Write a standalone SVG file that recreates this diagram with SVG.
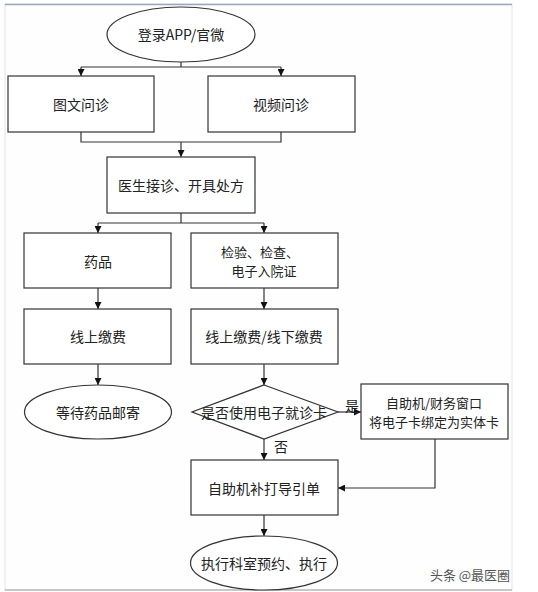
<svg xmlns="http://www.w3.org/2000/svg" width="538" height="592" viewBox="0 0 538 592">
<defs>
<marker id="ah" viewBox="0 0 10 10" refX="10" refY="5" markerWidth="7" markerHeight="7" markerUnits="userSpaceOnUse" orient="auto">
<path d="M0,0 L10,5 L0,10 z" fill="#111"/>
</marker>
</defs>
<style>
.n{fill:#fff;stroke:#333;stroke-width:1.2}
.t{font-family:"Noto Sans CJK SC","Noto Sans",sans-serif;font-size:14px;fill:#222;text-anchor:middle;dominant-baseline:central}
.t2{font-size:13px}
.c{fill:none;stroke:#333;stroke-width:1.2}
.a{marker-end:url(#ah)}
</style>
<rect x="0" y="0" width="538" height="592" fill="#fff"/>
<rect x="5" y="4" width="507" height="586" fill="#fefefe" stroke="#ececf3" stroke-width="1.5"/>
<line x1="5" y1="4.5" x2="512" y2="4.5" stroke="#9aa9b8" stroke-width="1.5"/>
<line x1="5" y1="590" x2="512" y2="590" stroke="#a0a0a0" stroke-width="1.2"/>
<g id="connectors">
<path class="c" d="M181,62 V67 M81,67 H281"/>
<path class="c a" d="M81,67 V76"/>
<path class="c a" d="M281,67 V76"/>
<path class="c" d="M81,132 V142 H281 V132"/>
<path class="c a" d="M181,142 V157"/>
<path class="c" d="M181,213 V223 M98,223 H264"/>
<path class="c a" d="M98,223 V233"/>
<path class="c a" d="M264,223 V233"/>
<path class="c a" d="M98,288 V309"/>
<path class="c a" d="M264,288 V309"/>
<path class="c a" d="M98,364 V385"/>
<path class="c a" d="M264,364 V385"/>
<path class="c a" d="M338,412 H361"/>
<path class="c a" d="M264,439 V460"/>
<path class="c a" d="M435,439 V488 H338"/>
<path class="c a" d="M264,515 V536"/>
<text class="t" x="352" y="405">是</text>
<text class="t" x="281" y="446">否</text>
</g>
<g id="login"><ellipse class="n" cx="181" cy="34.5" rx="74" ry="27.5"/><text class="t" x="181" y="34">登录APP/官微</text></g>
<g id="tuwen"><rect class="n" x="8" y="76" width="146" height="56"/><text class="t" x="81" y="104">图文问诊</text></g>
<g id="shipin"><rect class="n" x="208" y="76" width="147" height="56"/><text class="t" x="281" y="104">视频问诊</text></g>
<g id="doctor"><rect class="n" x="107" y="157" width="148" height="56"/><text class="t" x="181" y="185">医生接诊、开具处方</text></g>
<g id="yaopin"><rect class="n" x="24" y="233" width="147" height="55"/><text class="t" x="98" y="261">药品</text></g>
<g id="jianyan"><rect class="n" x="191" y="233" width="147" height="55"/><text class="t t2" x="260" y="251">检验、检查、</text><text class="t t2" x="264" y="270">电子入院证</text></g>
<g id="pay1"><rect class="n" x="24" y="309" width="147" height="55"/><text class="t" x="98" y="336">线上缴费</text></g>
<g id="pay2"><rect class="n" x="191" y="309" width="147" height="55"/><text class="t" x="264" y="336">线上缴费/线下缴费</text></g>
<g id="wait"><ellipse class="n" cx="98" cy="412" rx="73.5" ry="27"/><text class="t" x="98" y="412">等待药品邮寄</text></g>
<g id="decision"><polygon class="n" points="264,385 338,412 264,439 192,412"/><text class="t" x="264" y="412">是否使用电子就诊卡</text></g>
<g id="bind"><rect class="n" x="361" y="384" width="147" height="55"/><text class="t t2" x="434" y="402">自助机/财务窗口</text><text class="t t2" x="434" y="421">将电子卡绑定为实体卡</text></g>
<g id="print"><rect class="n" x="191" y="460" width="147" height="55"/><text class="t" x="264" y="488">自助机补打导引单</text></g>
<g id="exec"><ellipse class="n" cx="264" cy="563" rx="73.5" ry="27"/><text class="t" x="264" y="563">执行科室预约、执行</text></g>
<text x="470" y="574" font-family="'Noto Sans CJK SC',sans-serif" font-size="13" fill="#555" text-anchor="middle" dominant-baseline="central">头条 @最医圈</text>
</svg>
